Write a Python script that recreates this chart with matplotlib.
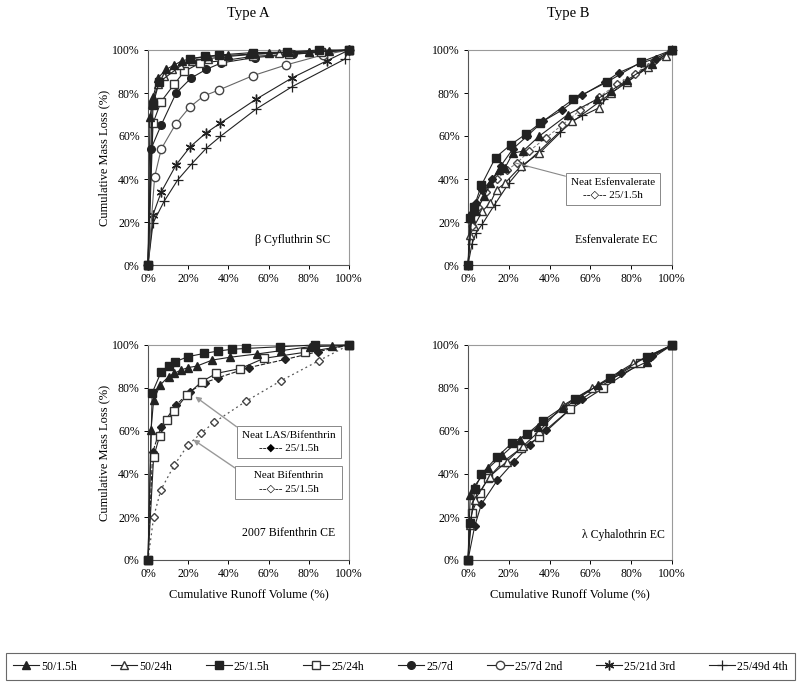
import numpy as np
import matplotlib
matplotlib.use("Agg")
import matplotlib.pyplot as plt
from matplotlib.ticker import FuncFormatter
from matplotlib.lines import Line2D

plt.rcParams['font.family'] = ['Liberation Serif', 'DejaVu Serif', 'DejaVu Sans']

# ============================================================
# 数据 (单位 %)
# ============================================================

# --- Type A : beta Cyfluthrin SC ---
a_tri_f_x = [0, 1, 2.5, 5, 9, 13, 17, 22, 30, 40, 50, 60, 70, 80, 90, 100]
a_tri_f_y = [0, 69, 78, 87, 91, 93, 95, 96, 97, 97.5, 98, 98.5, 99, 99.3, 99.6, 100]
a_tri_o_x = [0, 2, 5, 8, 12, 16, 22, 30, 40, 52, 65, 80, 100]
a_tri_o_y = [0, 75, 84, 88, 91, 93, 95, 96, 97, 98, 98.5, 99, 100]
a_sq_f_x = [0, 2.5, 5.5, 21, 28.5, 35.5, 52, 69, 85, 100]
a_sq_f_y = [0, 74.5, 85, 96, 97, 97.7, 98.8, 99, 100, 100]
a_sq_o_x = [0, 2.5, 6.5, 13, 18, 26, 37, 52, 70, 86, 100]
a_sq_o_y = [0, 66, 76, 84, 90, 94, 95, 97, 98, 99, 100]
a_ci_f_x = [0, 1.5, 6.5, 14, 21.5, 29, 36.5, 53, 72, 86, 100]
a_ci_f_y = [0, 54, 65, 80, 87, 91, 94, 96.5, 98, 99, 100]
a_ci_o_x = [0, 3.3, 6.6, 13.8, 20.7, 27.7, 35.3, 52, 68.5, 87, 100]
a_ci_o_y = [0, 41, 54, 65.6, 73.4, 78.6, 81.4, 88, 93, 97.7, 100]
a_ast_x = [0, 2.5, 6.6, 14, 21, 28.7, 36, 53.6, 71.6, 89, 100]
a_ast_y = [0, 23.4, 34, 46.6, 55, 61.3, 66, 77, 87, 95, 100]
a_plus_x = [0, 2.5, 8, 14.8, 21.7, 29, 36, 53.9, 71.8, 97.8, 100]
a_plus_y = [0, 19.5, 29.6, 39.6, 47, 54.3, 59.8, 72.6, 83, 95.7, 100]

# --- Type B : Esfenvalerate EC ---
b_sq_f_x = [0, 1, 3, 6.5, 13.5, 21, 28.5, 35.5, 51.5, 68, 85, 100]
b_sq_f_y = [0, 22, 27, 37, 50, 56, 61, 66, 77, 85, 94.5, 100]
b_dia_f_x = [0, 2, 4, 7, 12, 16, 22, 29, 37, 46, 56, 67, 74, 85, 92, 100]
b_dia_f_y = [0, 24, 29, 35, 40, 46, 54, 60, 67, 72, 79, 85, 89.5, 94, 96, 100]
b_tri_f_x = [0, 1.5, 4, 8, 11, 15, 18, 22, 27, 35, 49, 63, 70, 78, 90, 100]
b_tri_f_y = [0, 22, 25, 32, 38, 44, 45, 52, 53, 60, 70, 77, 81, 86, 93.5, 100]
b_tri_o_x = [0, 1, 3, 7, 11, 14, 18, 26, 35, 51, 64, 70, 78, 88, 97, 100]
b_tri_o_y = [0, 14, 18, 25, 29, 35, 38, 46, 52, 67, 73, 80, 85, 92, 97, 100]
b_dia_o_x = [0, 2, 5, 9, 14, 19, 24, 30, 38, 46, 55, 64, 73, 82, 91, 100]
b_dia_o_y = [0, 18, 27, 34, 40, 44, 47.5, 53, 59, 65, 72, 78, 84, 89, 95, 100]
b_plus_x = [0, 2, 4, 7, 13, 20, 27, 35, 45, 56, 66, 76, 87, 100]
b_plus_y = [0, 10, 15, 19, 28, 38, 46, 53, 62, 70, 77, 84, 91, 100]

# --- Type A : 2007 Bifenthrin CE ---
c_sq_f_x = [0, 2.1, 6.6, 10.2, 13.5, 20, 28, 35, 41.6, 49, 65.6, 83, 100]
c_sq_f_y = [0, 77.8, 87.6, 90.4, 92.2, 94.6, 96.1, 97.2, 98, 98.4, 99.2, 100, 100]
c_tri_f_x = [0, 1.5, 2.8, 6.1, 10.2, 13, 16.5, 20, 24.3, 32, 40.8, 54, 66.4, 80.5, 91.7, 100]
c_tri_f_y = [0, 60.5, 74.4, 81.4, 85.3, 86.8, 88.4, 89.5, 90.2, 93, 94.3, 95.8, 97.4, 99.2, 99.5, 100]
c_sq_o_x = [0, 2.8, 5.8, 9.4, 13, 19.3, 26.8, 34, 45.8, 57.7, 78, 100]
c_sq_o_y = [0, 48, 57.7, 65, 69.3, 76.7, 83, 86.8, 89, 93.8, 96.6, 100]
c_dia_f_x = [0, 2.3, 6.4, 13.9, 20.7, 28.4, 35, 50.2, 68.3, 84.6, 100]
c_dia_f_y = [0, 50, 62, 72, 78.3, 82.5, 84.8, 89.5, 93.3, 96.9, 100]
c_dia_o_x = [0, 2.8, 6.4, 13, 19.7, 26.4, 32.9, 49, 66, 85, 100]
c_dia_o_y = [0, 20, 32.6, 44, 53.3, 59, 64, 74, 83.3, 92.7, 100]

# --- Type B : lambda Cyhalothrin EC ---
d_sq_f_x = [0, 1.2, 3.3, 6.6, 14.3, 21.8, 29, 36.6, 52.5, 69.7, 87.7, 100]
d_sq_f_y = [0, 17, 32.9, 40, 48, 54.6, 58.6, 64.7, 75, 84.5, 94.6, 100]
d_tri_f_x = [0, 1.1, 2.8, 9.8, 16.9, 25.4, 34.4, 46.7, 63.9, 87.7, 100]
d_tri_f_y = [0, 30.2, 34, 42.6, 48.8, 56, 62, 70.5, 81.4, 92.2, 100]
d_tri_o_x = [0, 0.8, 3.3, 10.6, 18.9, 27, 35, 46.7, 60.7, 81, 100]
d_tri_o_y = [0, 16.3, 28, 38.8, 45.7, 53, 60, 72, 79.8, 91.5, 100]
d_sq_o_x = [0, 2, 5.7, 9.8, 17.2, 26, 35, 50, 66.4, 84.4, 100]
d_sq_o_y = [0, 22, 31, 38, 45.7, 52, 57, 70, 80, 91.5, 100]
d_dia_f_x = [0, 3.3, 6.6, 14.3, 22.5, 30.3, 38.2, 56, 75, 90, 100]
d_dia_f_y = [0, 15.8, 26, 37, 45.7, 53.5, 60.5, 75, 87, 95, 100]

legend_labels = ["50/1.5h", "50/24h", "25/1.5h", "25/24h", "25/7d",
                 "25/7d 2nd", "25/21d 3rd", "25/49d 4th"]

# ============================================================
# 样式
# ============================================================

ASTER = (6, 2, 0)
styles = {
    "tri_f": dict(marker="^", mfc="#222222", mec="#222222", ms=5.5),
    "tri_o": dict(marker="^", mfc="white", mec="#333333", ms=6),
    "sq_f": dict(marker="s", mfc="#222222", mec="#222222", ms=5.5),
    "sq_o": dict(marker="s", mfc="white", mec="#333333", ms=6),
    "ci_f": dict(marker="o", mfc="#222222", mec="#222222", ms=5.5),
    "ci_o": dict(marker="o", mfc="white", mec="#444444", ms=6),
    "ast": dict(marker=ASTER, mfc="#222222", mec="#222222", ms=7, mew=1),
    "plus": dict(marker="+", mfc="#222222", mec="#222222", ms=7, mew=0.9),
    "dia_f": dict(marker="D", mfc="#222222", mec="#222222", ms=4.5),
    "dia_o": dict(marker="D", mfc="white", mec="#444444", ms=4),
}


def draw(ax, x, y, key, color="#222222", ls="-", lw=0.8):
    ax.plot(x, y, color=color, ls=ls, lw=lw, clip_on=False, zorder=3, **styles[key])


def setup(ax, xlabel=False, ylabel=False):
    ax.set_xlim(0, 100)
    ax.set_ylim(0, 100)
    ax.set_xticks(np.arange(0, 101, 20))
    ax.set_yticks(np.arange(0, 101, 20))
    pct = FuncFormatter(lambda v, p: f"{int(v)}%")
    ax.xaxis.set_major_formatter(pct)
    ax.yaxis.set_major_formatter(pct)
    ax.tick_params(labelsize=8.5, length=3, width=0.7, direction="out", pad=3)
    for s in ["top", "right"]:
        ax.spines[s].set_color("#9a9a9a")
        ax.spines[s].set_linewidth(0.8)
    for s in ["left", "bottom"]:
        ax.spines[s].set_color("#555555")
        ax.spines[s].set_linewidth(0.8)
    if xlabel:
        ax.set_xlabel("Cumulative Runoff Volume (%)", fontsize=9, labelpad=6)
    if ylabel:
        ax.set_ylabel("Cumulative Mass Loss (%)", fontsize=9, labelpad=1)


fig = plt.figure(figsize=(8, 6.87), dpi=100)
W, H = 800, 687


def add_axes(x0, x1, y0, y1):
    return fig.add_axes([x0 / W, 1 - y1 / H, (x1 - x0) / W, (y1 - y0) / H])


ax_a = add_axes(148, 349, 50, 265)
ax_b = add_axes(468, 672, 50, 265)
ax_c = add_axes(148, 349, 345, 560)
ax_d = add_axes(468, 672, 345, 560)

box = dict(boxstyle="square,pad=0.45", fc="white", ec="#888888", lw=0.7)

# --- 左上 ---
draw(ax_a, a_plus_x, a_plus_y, "plus")
draw(ax_a, a_ast_x, a_ast_y, "ast")
draw(ax_a, a_ci_o_x, a_ci_o_y, "ci_o", color="#666666")
draw(ax_a, a_ci_f_x, a_ci_f_y, "ci_f")
draw(ax_a, a_sq_o_x, a_sq_o_y, "sq_o")
draw(ax_a, a_tri_o_x, a_tri_o_y, "tri_o")
draw(ax_a, a_sq_f_x, a_sq_f_y, "sq_f")
draw(ax_a, a_tri_f_x, a_tri_f_y, "tri_f")
setup(ax_a, ylabel=True)
ax_a.text(90.5, 11.5, "β Cyfluthrin SC", ha="right", va="center", fontsize=8.5)

# --- 右上 ---
draw(ax_b, b_plus_x, b_plus_y, "plus")
draw(ax_b, b_tri_o_x, b_tri_o_y, "tri_o")
draw(ax_b, b_dia_o_x, b_dia_o_y, "dia_o", color="#777777", ls=(0, (3, 2)), lw=0.7)
draw(ax_b, b_tri_f_x, b_tri_f_y, "tri_f")
draw(ax_b, b_dia_f_x, b_dia_f_y, "dia_f")
draw(ax_b, b_sq_f_x, b_sq_f_y, "sq_f")
setup(ax_b)
ax_b.text(93, 11.5, "Esfenvalerate EC", ha="right", va="center", fontsize=8.5)
ax_b.annotate("Neat Esfenvalerate\n--◇-- 25/1.5h", xy=(23, 47.5), xytext=(71, 35.5),
              ha="center", va="center", fontsize=8, linespacing=1.6, bbox=box,
              arrowprops=dict(arrowstyle="-", color="#888888", lw=0.8,
                              shrinkA=0, shrinkB=0, relpos=(0, 1)),
              zorder=5)

# --- 左下 ---
draw(ax_c, c_dia_o_x, c_dia_o_y, "dia_o", color="#555555", ls=(0, (1.5, 2.5)), lw=0.9)
draw(ax_c, c_dia_f_x, c_dia_f_y, "dia_f", ls=(0, (4, 1.5)))
draw(ax_c, c_sq_o_x, c_sq_o_y, "sq_o")
draw(ax_c, c_tri_f_x, c_tri_f_y, "tri_f")
draw(ax_c, c_sq_f_x, c_sq_f_y, "sq_f")
setup(ax_c, xlabel=True, ylabel=True)
ax_c.text(93, 12.4, "2007 Bifenthrin CE", ha="right", va="center", fontsize=8.5)
arrow = dict(arrowstyle="-|>", color="#999999", lw=1.0, shrinkA=0, shrinkB=0,
             relpos=(0, 1), mutation_scale=8)
ax_c.annotate("Neat LAS/Bifenthrin\n--◆-- 25/1.5h", xy=(23.5, 76), xytext=(70, 55),
              ha="center", va="center", fontsize=8, linespacing=1.6, bbox=box,
              arrowprops=arrow, zorder=5)
ax_c.annotate("     Neat Bifenthrin     \n--◇-- 25/1.5h", xy=(22.5, 56), xytext=(70, 36),
              ha="center", va="center", fontsize=8, linespacing=1.6, bbox=box,
              arrowprops=arrow, zorder=5)

# --- 右下 ---
draw(ax_d, d_dia_f_x, d_dia_f_y, "dia_f")
draw(ax_d, d_sq_o_x, d_sq_o_y, "sq_o")
draw(ax_d, d_tri_o_x, d_tri_o_y, "tri_o")
draw(ax_d, d_tri_f_x, d_tri_f_y, "tri_f")
draw(ax_d, d_sq_f_x, d_sq_f_y, "sq_f")
setup(ax_d, xlabel=True)
ax_d.text(96.5, 11.6, "λ Cyhalothrin EC", ha="right", va="center", fontsize=8.5)

# 标题
fig.text(248 / W, 1 - 14 / H, "Type A", ha="center", va="center", fontsize=10.5)
fig.text(568 / W, 1 - 14 / H, "Type B", ha="center", va="center", fontsize=10.5)

# 图例
keys = ["tri_f", "tri_o", "sq_f", "sq_o", "ci_f", "ci_o", "ast", "plus"]
handles = [Line2D([], [], color="#222222", lw=0.8, **styles[k]) for k in keys]
leg = fig.legend(handles, legend_labels, ncol=8, loc="center", mode="expand",
                 bbox_to_anchor=(6 / W, 1 - 681 / H, 789 / W, 29 / H), fontsize=8.5,
                 frameon=True, fancybox=False, edgecolor="#444444", handlelength=2.2,
                 handletextpad=0.2, borderpad=0.6, borderaxespad=0)
leg.get_frame().set_linewidth(0.8)

plt.savefig("out.png", dpi=100)
plt.close()
